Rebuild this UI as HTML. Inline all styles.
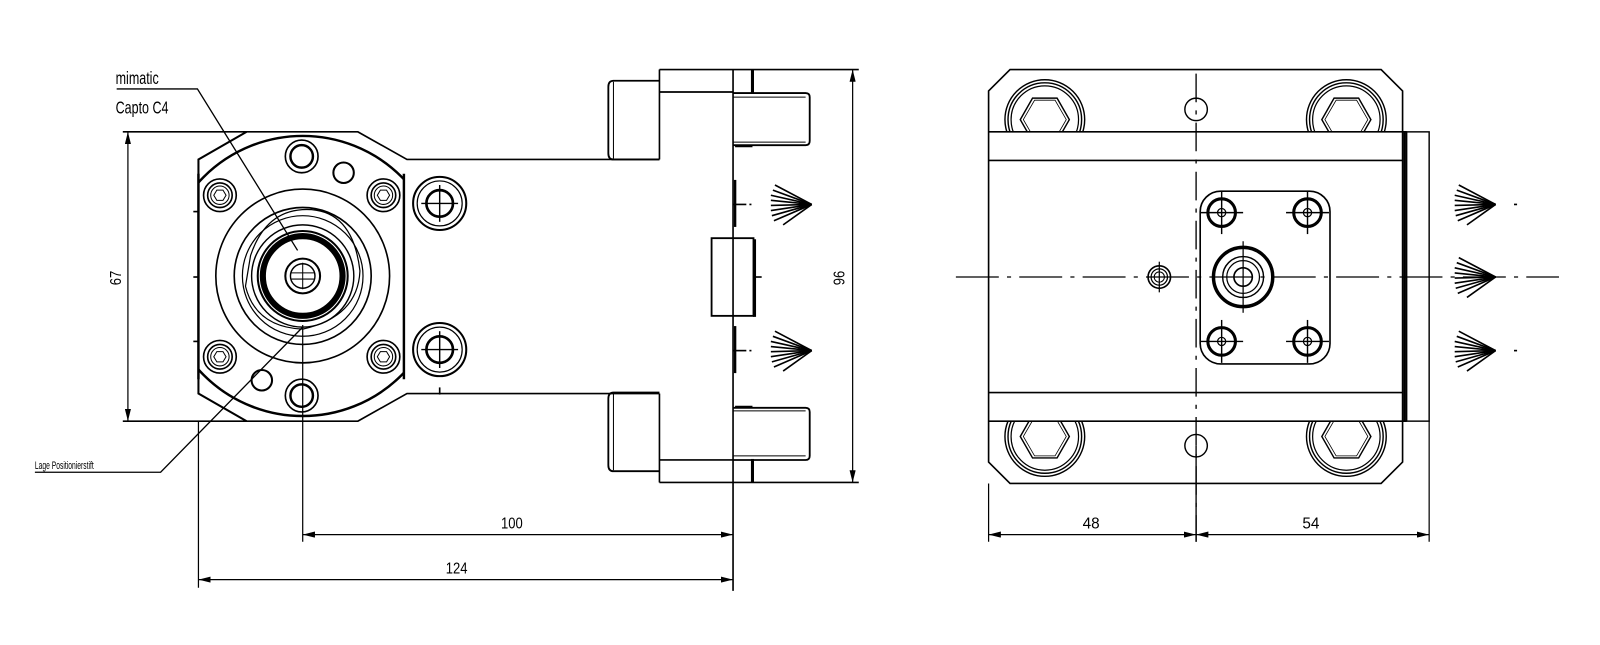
<!DOCTYPE html>
<html><head><meta charset="utf-8"><style>html,body{margin:0;padding:0;background:#fff}svg{display:block}</style></head><body>
<svg width="1600" height="645" viewBox="0 0 1565 631" xmlns="http://www.w3.org/2000/svg" font-family="Liberation Sans, sans-serif">
<defs>
<marker id="a" viewBox="0 0 12 6" refX="12" refY="3" markerWidth="12" markerHeight="6" orient="auto-start-reverse" markerUnits="userSpaceOnUse"><path d="M0,0 L12,3 L0,6 z" fill="#000"/></marker>
<clipPath id="flc"><rect x="194" y="100" width="201" height="340"/></clipPath>
<clipPath id="topc"><rect x="967" y="60" width="410" height="69"/></clipPath>
<clipPath id="botc"><rect x="967" y="412" width="410" height="70"/></clipPath>
<g id="fan" stroke="#000" stroke-width="1.6">
<line x1="0" y1="0" x2="-36" y2="-19"/><line x1="0" y1="0" x2="-38" y2="-14"/><line x1="0" y1="0" x2="-40" y2="-9"/><line x1="0" y1="0" x2="-40" y2="-4"/><line x1="0" y1="0" x2="-40" y2="1"/><line x1="0" y1="0" x2="-40" y2="6"/><line x1="0" y1="0" x2="-39" y2="11"/><line x1="0" y1="0" x2="-37" y2="16"/><line x1="0" y1="0" x2="-28" y2="20"/>
</g>
<g id="scr" fill="none" stroke="#000"><circle r="16" stroke-width="1.6"/><circle r="12" stroke-width="1.6"/><circle r="9" stroke-width="1"/><path d="M-6,0 L-3,-5 L3,-5 L6,0 L3,5 L-3,5 Z" stroke-width="1"/></g>
<g id="hol" fill="none" stroke="#000"><circle r="16" stroke-width="1.6"/><circle r="11" stroke-width="2.4"/></g>
<g id="rh" fill="none" stroke="#000"><circle r="26" stroke-width="2"/><circle r="22" stroke-width="1.2"/><circle r="13" stroke-width="2.6"/><line x1="-18" y1="0" x2="18" y2="0" stroke-width="1.4"/><line x1="0" y1="-18" x2="0" y2="18" stroke-width="1.4"/></g>
<g id="bb" fill="none" stroke="#000"><circle r="39" stroke-width="1.4"/><circle r="36" stroke-width="1.4"/><circle r="33" stroke-width="1.2"/><path d="M-24,0 L-12,-21 L12,-21 L24,0 L12,21 L-12,21 Z" stroke-width="1.4"/><path d="M-21,0 L-10,-19 L10,-19 L21,0 L10,19 L-10,19 Z" stroke-width="0.8"/></g>
<g id="ps" fill="none" stroke="#000"><circle r="13.5" stroke-width="3"/><circle r="4" stroke-width="1.2"/><line x1="-21" y1="0" x2="21" y2="0" stroke-width="1.4"/><line x1="0" y1="-21" x2="0" y2="21" stroke-width="1.4"/></g>
</defs>

<g fill="none" stroke="#000" stroke-width="1.6">
<polyline points="120,129 350,129 398,156 645,156"/>
<polyline points="120,412 350,412 398,385 645,385"/>
<polyline points="241,129 194,156 194,385 241,412" stroke-width="2"/>
<line x1="395" y1="170" x2="395" y2="371" stroke-width="2.4"/>
<line x1="194" y1="170" x2="194" y2="371" stroke-width="2.4"/>
<g clip-path="url(#flc)"><circle cx="296" cy="270" r="137" stroke-width="2.4"/></g>
<line x1="189" y1="207" x2="194" y2="207"/><line x1="189" y1="271" x2="194" y2="271"/><line x1="189" y1="334" x2="194" y2="334"/>
<circle cx="296" cy="270" r="85"/>
<circle cx="296" cy="270" r="67"/>
<circle cx="296" cy="270" r="59" stroke-width="1.2"/>
<path d="M245,250 Q260,205 300,205 Q345,205 352,265 Q350,310 296,322 Q250,320 240,280 Z" stroke-width="1.2"/>
<circle cx="296" cy="270" r="50" stroke-width="1.4"/>
<circle cx="296" cy="270" r="44" stroke-width="2"/>
<circle cx="296" cy="270" r="39" stroke-width="6"/>
<circle cx="296" cy="270" r="17" stroke-width="2"/>
<circle cx="296" cy="270" r="12" stroke-width="1.4"/>
<line x1="285" y1="267" x2="307" y2="267" stroke-width="1"/><line x1="285" y1="273" x2="307" y2="273" stroke-width="1"/><line x1="296" y1="257" x2="296" y2="283" stroke-width="1"/>
<use href="#scr" x="215" y="191"/><use href="#scr" x="375" y="191"/><use href="#scr" x="215" y="349"/><use href="#scr" x="375" y="349"/>
<use href="#hol" x="295" y="153"/><use href="#hol" x="295" y="387"/>
<circle cx="336" cy="169" r="10" stroke-width="2"/>
<circle cx="256" cy="372" r="10" stroke-width="2"/>
<use href="#rh" x="430" y="199"/><use href="#rh" x="430" y="342"/>
<line x1="430" y1="379" x2="430" y2="386"/>
<line x1="645" y1="68" x2="645" y2="156"/><line x1="645" y1="385" x2="645" y2="472"/>
<line x1="645" y1="68" x2="840" y2="68"/><line x1="645" y1="472" x2="840" y2="472"/>
<line x1="645" y1="90" x2="717" y2="90"/><line x1="645" y1="450" x2="717" y2="450"/>
<line x1="717" y1="68" x2="717" y2="578"/>
<line x1="736" y1="68" x2="736" y2="91" stroke-width="3"/><line x1="736" y1="449" x2="736" y2="472" stroke-width="3"/>
<path d="M645,79 L600,79 Q595,79 595,85 L595,150 Q595,156 600,156 L645,156" stroke-width="1.8"/>
<line x1="600" y1="80" x2="600" y2="155" stroke-width="1"/>
<path d="M645,384 L600,384 Q595,384 595,390 L595,455 Q595,461 600,461 L645,461" stroke-width="1.8"/>
<line x1="600" y1="385" x2="600" y2="460" stroke-width="1"/>
<path d="M717,91 L788,91 Q792,91 792,95 L792,138 Q792,142 788,142 L717,142" stroke-width="1.8"/>
<line x1="717" y1="95" x2="788" y2="95" stroke-width="1"/><line x1="717" y1="139" x2="788" y2="139" stroke-width="1"/>
<line x1="719" y1="143" x2="736" y2="143" stroke-width="2"/>
<path d="M717,399 L788,399 Q792,399 792,403 L792,446 Q792,450 788,450 L717,450" stroke-width="1.8"/>
<line x1="717" y1="402" x2="788" y2="402" stroke-width="1"/><line x1="717" y1="446" x2="788" y2="446" stroke-width="1"/>
<line x1="719" y1="398" x2="736" y2="398" stroke-width="2"/>
<rect x="696" y="233" width="41" height="76" stroke-width="1.8"/>
<line x1="738" y1="234" x2="738" y2="310" stroke-width="3"/>
<line x1="738" y1="271" x2="745" y2="271"/>
<line x1="719" y1="176" x2="719" y2="222" stroke-width="2.4"/><line x1="717" y1="200" x2="730" y2="200"/><line x1="733" y1="200" x2="735" y2="200"/>
<line x1="719" y1="319" x2="719" y2="365" stroke-width="2.4"/><line x1="717" y1="343" x2="730" y2="343"/><line x1="733" y1="343" x2="735" y2="343"/>
<line x1="194" y1="412" x2="194" y2="575" stroke-width="1.2"/>
<line x1="296" y1="318" x2="296" y2="530" stroke-width="1.2"/>
<line x1="125" y1="129" x2="125" y2="412" stroke-width="1.2" marker-start="url(#a)" marker-end="url(#a)"/>
<line x1="834" y1="68" x2="834" y2="472" stroke-width="1.2" marker-start="url(#a)" marker-end="url(#a)"/>
<line x1="296" y1="523" x2="717" y2="523" stroke-width="1.2" marker-start="url(#a)" marker-end="url(#a)"/>
<line x1="194" y1="567" x2="717" y2="567" stroke-width="1.2" marker-start="url(#a)" marker-end="url(#a)"/>
<polyline points="114,87 193,87 291,245" stroke-width="1.3"/>
<polyline points="34,462 157,462 296,320" stroke-width="1.3"/>
</g>
<use href="#fan" x="794" y="200"/><use href="#fan" x="794" y="343"/>

<g fill="none" stroke="#000" stroke-width="1.6">
<polygon points="988,68 1351,68 1372,89 1372,452 1351,473 988,473 967,452 967,89"/>
<line x1="967" y1="129" x2="1376" y2="129"/><line x1="967" y1="157" x2="1372" y2="157"/>
<line x1="967" y1="384" x2="1372" y2="384"/><line x1="967" y1="412" x2="1376" y2="412"/>
<rect x="1376" y="129" width="22" height="283" stroke-width="1.4"/>
<line x1="1374" y1="129" x2="1374" y2="412" stroke-width="2.6"/>
<g clip-path="url(#topc)"><use href="#bb" x="1022" y="117"/><use href="#bb" x="1317" y="117"/></g>
<g clip-path="url(#botc)"><use href="#bb" x="1022" y="427"/><use href="#bb" x="1317" y="427"/></g>
<circle cx="1170" cy="107" r="11" stroke-width="1.4"/>
<circle cx="1170" cy="436" r="11" stroke-width="1.4"/>
<rect x="1174" y="187" width="127" height="169" rx="20" stroke-width="1.6"/>
<use href="#ps" x="1195" y="208"/><use href="#ps" x="1279" y="208"/><use href="#ps" x="1195" y="334"/><use href="#ps" x="1279" y="334"/>
<circle cx="1216" cy="271" r="29" stroke-width="3.4"/>
<circle cx="1216" cy="271" r="20" stroke-width="1.4"/>
<circle cx="1216" cy="271" r="16" stroke-width="1.2"/>
<circle cx="1216" cy="271" r="9" stroke-width="1.6"/>
<line x1="1216" y1="236" x2="1216" y2="306" stroke-width="1.2"/>
<circle cx="1134" cy="271" r="11" stroke-width="1.6"/><circle cx="1134" cy="271" r="8" stroke-width="1.2"/><circle cx="1134" cy="271" r="5" stroke-width="1"/>
<line x1="1134" y1="256" x2="1134" y2="286" stroke-width="1.2"/>
<line x1="935" y1="271" x2="1525" y2="271" stroke-width="1.3" stroke-dasharray="42 8 4 8"/>
<line x1="1170" y1="72" x2="1170" y2="530" stroke-width="1.3" stroke-dasharray="28 8 4 8"/>
<line x1="1170" y1="436" x2="1170" y2="530" stroke-width="1.3"/>
<line x1="1481" y1="200" x2="1484" y2="200"/><line x1="1481" y1="343" x2="1484" y2="343"/>
<line x1="967" y1="473" x2="967" y2="530" stroke-width="1.2"/>
<line x1="1398" y1="412" x2="1398" y2="530" stroke-width="1.2"/>
<line x1="967" y1="523" x2="1170" y2="523" stroke-width="1.2" marker-start="url(#a)" marker-end="url(#a)"/>
<line x1="1170" y1="523" x2="1398" y2="523" stroke-width="1.2" marker-start="url(#a)" marker-end="url(#a)"/>
</g>
<use href="#fan" x="1463" y="200"/>
<use href="#fan" x="1463" y="271"/>
<use href="#fan" x="1463" y="343"/>

<g font-size="15" fill="#000">
<text x="490" y="517" transform="translate(490,0) scale(0.85,1) translate(-490,0)">100</text>
<text x="436" y="561" transform="translate(436,0) scale(0.85,1) translate(-436,0)">124</text>
<text x="1059" y="517">48</text>
<text x="1274" y="517">54</text>
<text transform="translate(118,272) rotate(-90) scale(0.85,1)" text-anchor="middle">67</text>
<text transform="translate(826,272) rotate(-90) scale(0.85,1)" text-anchor="middle">96</text>
<text transform="translate(113,82) scale(0.72,1)" font-size="17">mimatic</text>
<text transform="translate(113,111) scale(0.72,1)" font-size="17">Capto C4</text>
<text transform="translate(34,459) scale(0.6,1)" font-size="11">Lage Positionierstift</text>
</g>
</svg>
</body></html>
